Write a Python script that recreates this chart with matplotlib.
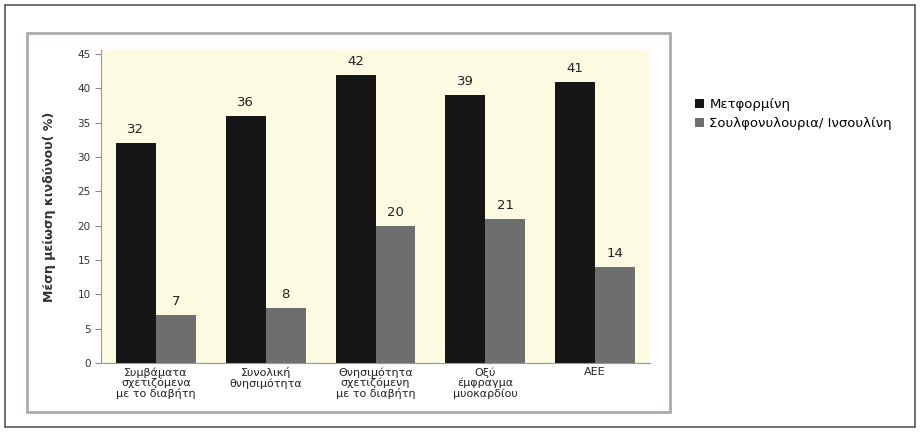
import numpy as np
import matplotlib.pyplot as plt
from matplotlib.patches import Rectangle

categories = ["Συμβάματα\nσχετιζόμενα\nμε το διαβήτη", "Συνολική\nθνησιμότητα",
              "Θνησιμότητα\nσχετιζόμενη\nμε το διαβήτη", "Οξύ\nέμφραγμα\nμυοκαρδίου", "ΑΕΕ"]
metformin = [32, 36, 42, 39, 41]
sulfonyl = [7, 8, 20, 21, 14]
series_names = ["Μετφορμίνη", "Σουλφονυλουρια/ Ινσουλίνη"]

plt.rcParams['font.family'] = ['DejaVu Sans']

fig = plt.figure(figsize=(9.21, 4.32), dpi=100)
W, H = 921, 432

# outer frame and inner chart box
fig.patches.append(Rectangle((5 / W, 5 / H), 910 / W, 422 / H, transform=fig.transFigure,
                             fill=False, edgecolor='#555555', linewidth=1.2))
fig.patches.append(Rectangle((27 / W, 1 - 412 / H), 643 / W, 379 / H, transform=fig.transFigure,
                             fill=False, edgecolor='#b0aaaa', linewidth=2))

ax = fig.add_axes([101 / W, 1 - 363 / H, 549 / W, 313 / H])
ax.set_facecolor('#fdfae2')

x = np.arange(len(categories))
w = 0.364
b1 = ax.bar(x - w / 2, metformin, w, color='#161616', label=series_names[0])
b2 = ax.bar(x + w / 2, sulfonyl, w, color='#6e6e6e', label=series_names[1])

for bars in (b1, b2):
    for r in bars:
        ax.text(r.get_x() + r.get_width() / 2, r.get_height() + 1.0, str(int(r.get_height())),
                ha='center', va='bottom', fontsize=9.5, color='#222222')

ax.set_xlim(-0.5, len(categories) - 0.5)
ax.set_ylim(0, 45.6)
ax.set_yticks(range(0, 46, 5))
ax.set_xticks(x)
ax.set_xticklabels(categories, fontsize=8, color='#222222', linespacing=1.0)
ax.tick_params(axis='y', labelsize=7.5, colors='#333333', length=4, color='#888888')
ax.tick_params(axis='x', length=0, pad=3)
for s in ('top', 'right'):
    ax.spines[s].set_visible(False)
ax.spines['left'].set_color('#999999')
ax.spines['bottom'].set_color('#999999')

ax.set_ylabel("Μέση μείωση κινδύνου( %)", fontsize=9, fontweight='bold', color='#333333', labelpad=15)

fig.legend(handles=[b1, b2], labels=series_names, loc='upper left',
           bbox_to_anchor=(683 / W, 1 - 86 / H), frameon=False, fontsize=9.5,
           handlelength=0.7, handleheight=0.7, handletextpad=0.4, labelspacing=0.45)

fig.savefig('out.png', dpi=100)
